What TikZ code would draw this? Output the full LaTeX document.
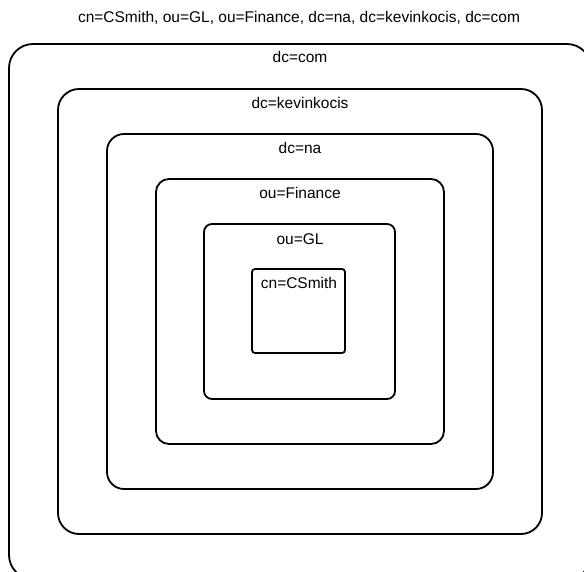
\documentclass[tikz,border=0pt]{standalone}
\usepackage{fontspec}
\setmainfont{Liberation Sans}
\begin{document}
\begin{tikzpicture}[x=1pt,y=-1pt,
  layer/.style={draw=black,line width=1.8pt},
  lbl/.style={font=\fontsize{15.5}{18}\selectfont,inner sep=0pt,anchor=center}]
\useasboundingbox (0,0) rectangle (584,572);
\clip (0,0) rectangle (584,572);
\fill[white] (0,0) rectangle (584,572);
\node[lbl] (dn) at (299,18) {cn=CSmith, ou=GL, ou=Finance, dc=na, dc=kevinkocis, dc=com};
\draw[layer,rounded corners=24pt] (9,44) rectangle (591,579);
\draw[layer,rounded corners=21pt] (58,89) rectangle (542,534);
\draw[layer,rounded corners=17pt] (107,134) rectangle (493,489);
\draw[layer,rounded corners=13pt] (156,179) rectangle (444,444);
\draw[layer,rounded corners=8pt] (204,224) rectangle (395,399);
\draw[layer,rounded corners=3pt] (252,269) rectangle (345,353);
\node[lbl] (com) at (300,57) {dc=com};
\node[lbl] (kev) at (300,103) {dc=kevinkocis};
\node[lbl] (na) at (300,148) {dc=na};
\node[lbl] (fin) at (300,193) {ou=Finance};
\node[lbl] (gl) at (300,239) {ou=GL};
\node[lbl] (cn) at (299,283) {cn=CSmith};
\end{tikzpicture}
\end{document}
